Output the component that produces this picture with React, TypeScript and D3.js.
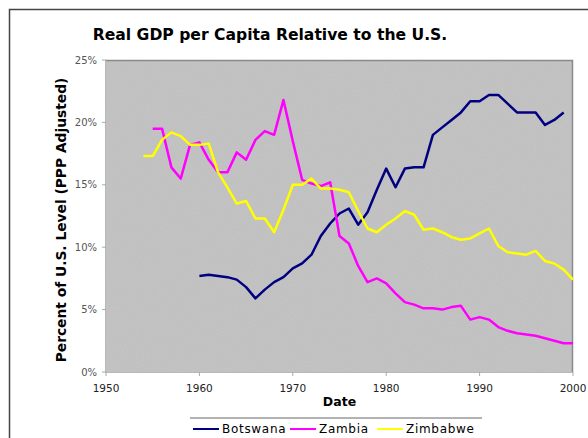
import React from "react";
import * as d3 from "d3";

// Real GDP per capita relative to the U.S. (percent, PPP adjusted)
const botswanaYears = d3.range(1960, 2000);
const botswanaValues = [
  7.7, 7.8, 7.7, 7.6, 7.4, 6.8, 5.9, 6.6, 7.2, 7.6,
  8.3, 8.7, 9.4, 10.9, 11.9, 12.7, 13.1, 11.8, 12.8, 14.6,
  16.3, 14.8, 16.3, 16.4, 16.4, 19.0, 19.6, 20.2, 20.8, 21.7,
  21.7, 22.2, 22.2, 21.5, 20.8, 20.8, 20.8, 19.8, 20.2, 20.8,
];

const zambiaYears = d3.range(1955, 2001);
const zambiaValues = [
  19.5, 19.5, 16.4, 15.5, 18.2,
  18.4, 17.0, 16.0, 16.0, 17.6, 17.0, 18.6, 19.3, 19.0, 21.8,
  18.5, 15.4, 15.1, 14.9, 15.2, 10.9, 10.3, 8.5, 7.2, 7.5,
  7.1, 6.3, 5.6, 5.4, 5.1, 5.1, 5.0, 5.2, 5.3, 4.2,
  4.4, 4.2, 3.6, 3.3, 3.1, 3.0, 2.9, 2.7, 2.5, 2.3,
  2.3,
];

const zimbabweYears = d3.range(1954, 2001);
const zimbabweValues = [
  17.3, 17.3, 18.6, 19.2, 18.9, 18.2,
  18.2, 18.3, 16.0, 14.8, 13.5, 13.7, 12.3, 12.3, 11.2, 13.0,
  15.0, 15.0, 15.5, 14.7, 14.7, 14.6, 14.4, 12.9, 11.5, 11.2,
  11.8, 12.3, 12.9, 12.6, 11.4, 11.5, 11.2, 10.8, 10.6, 10.7,
  11.1, 11.5, 10.1, 9.6, 9.5, 9.4, 9.7, 8.9, 8.7, 8.2,
  7.4,
];

const seriesNames = ["Botswana", "Zambia", "Zimbabwe"];
const seriesColors = ["#000080", "#ff00ff", "#ffff00"];

const xTicks = [1950, 1960, 1970, 1980, 1990, 2000];
const yTicks = [0, 5, 10, 15, 20, 25];

const W = 588;
const H = 438;
const margin = { left: 106, right: 15, top: 60, bottom: 66 };
const font = "'DejaVu Sans', Verdana, sans-serif";

export default function App() {
  const x = d3.scaleLinear().domain([1950, 2000]).range([margin.left, W - margin.right]);
  const y = d3.scaleLinear().domain([0, 25]).range([H - margin.bottom, margin.top]);

  const series = [
    { years: botswanaYears, values: botswanaValues },
    { years: zambiaYears, values: zambiaValues },
    { years: zimbabweYears, values: zimbabweValues },
  ];

  const line = d3
    .line<[number, number]>()
    .x(d => x(d[0]))
    .y(d => y(d[1]));

  const [x0, x1] = x.range();
  const [y0, y1] = y.range();

  // legend layout
  const legendX = [193, 290, 377];

  return (
    <svg
      width={W}
      height={H}
      style={{ position: "absolute", left: 0, top: 0, background: "#fff" }}
    >
      <defs>
        <filter id="grain" x="0" y="0" width="100%" height="100%">
          <feTurbulence type="fractalNoise" baseFrequency="0.9" numOctaves="1" seed="3" />
          <feColorMatrix values="0 0 0 0 1  0 0 0 0 1  0 0 0 0 1  0 0 0 0.35 -0.12" />
        </filter>
      </defs>

      {/* outer chart frame */}
      <path d={`M9.5,${H + 5} V9.5 H${W + 5}`} fill="none" stroke="#444" strokeWidth={1.5} />

      <text
        x={270}
        y={40}
        textAnchor="middle"
        fontFamily={font}
        fontWeight="bold"
        fontSize={15.6}
        fill="#000"
      >
        Real GDP per Capita Relative to the U.S.
      </text>

      {/* plot area */}
      <rect x={x0} y={y1} width={x1 - x0} height={y0 - y1} fill="#c0c0c0" />
      <rect x={x0} y={y1} width={x1 - x0} height={y0 - y1} filter="url(#grain)" opacity={0.5} />
      <path
        d={`M${x0},${y1 + 0.5} H${x1 - 0.5} V${y0}`}
        fill="none"
        stroke="#8a8a8a"
        strokeWidth={1.5}
      />
      <path d={`M${x0 - 0.5},${y1} V${y0 + 0.5} H${x1}`} fill="none" stroke="#b8b8b8" strokeWidth={1} />

      {/* y axis */}
      {yTicks.map(t => (
        <g key={t}>
          <line x1={x0 - 4} x2={x0} y1={y(t)} y2={y(t)} stroke="#aaa" />
          <text
            x={97}
            y={y(t)}
            dy="0.35em"
            textAnchor="end"
            fontFamily={font}
            fontSize={10}
            fill="#555"
          >
            {`${t}%`}
          </text>
        </g>
      ))}

      {/* x axis */}
      {xTicks.map(t => (
        <g key={t}>
          <line x1={x(t)} x2={x(t)} y1={y0} y2={y0 + 4} stroke="#aaa" />
          <text
            x={x(t)}
            y={392}
            textAnchor="middle"
            fontFamily={font}
            fontSize={10.5}
            fill="#222"
          >
            {t}
          </text>
        </g>
      ))}

      <text
        x={(x0 + x1) / 2}
        y={406}
        textAnchor="middle"
        fontFamily={font}
        fontWeight="bold"
        fontSize={12.5}
        fill="#000"
      >
        Date
      </text>

      <text
        transform={`translate(66,${(y0 + y1) / 2 + 4}) rotate(-90)`}
        textAnchor="middle"
        fontFamily={font}
        fontWeight="bold"
        fontSize={13.8}
        fill="#000"
      >
        Percent of U.S. Level (PPP Adjusted)
      </text>

      {/* series */}
      {series.map((s, i) => (
        <path
          key={seriesNames[i]}
          d={line(s.years.map((yr, j) => [yr, s.values[j]] as [number, number])) || ""}
          fill="none"
          stroke={seriesColors[i]}
          strokeWidth={2.5}
          strokeLinejoin="round"
        />
      ))}

      {/* legend */}
      <line x1={190} x2={482} y1={418} y2={418} stroke="#666" strokeWidth={1} />
      {seriesNames.map((name, i) => (
        <g key={name}>
          <line
            x1={legendX[i]}
            x2={legendX[i] + 26}
            y1={429}
            y2={429}
            stroke={seriesColors[i]}
            strokeWidth={2}
          />
          <text
            x={legendX[i] + 29}
            y={429}
            dy="0.35em"
            fontFamily={font}
            fontSize={12}
            letterSpacing={0.7}
            fill="#000"
          >
            {name}
          </text>
        </g>
      ))}
    </svg>
  );
}
